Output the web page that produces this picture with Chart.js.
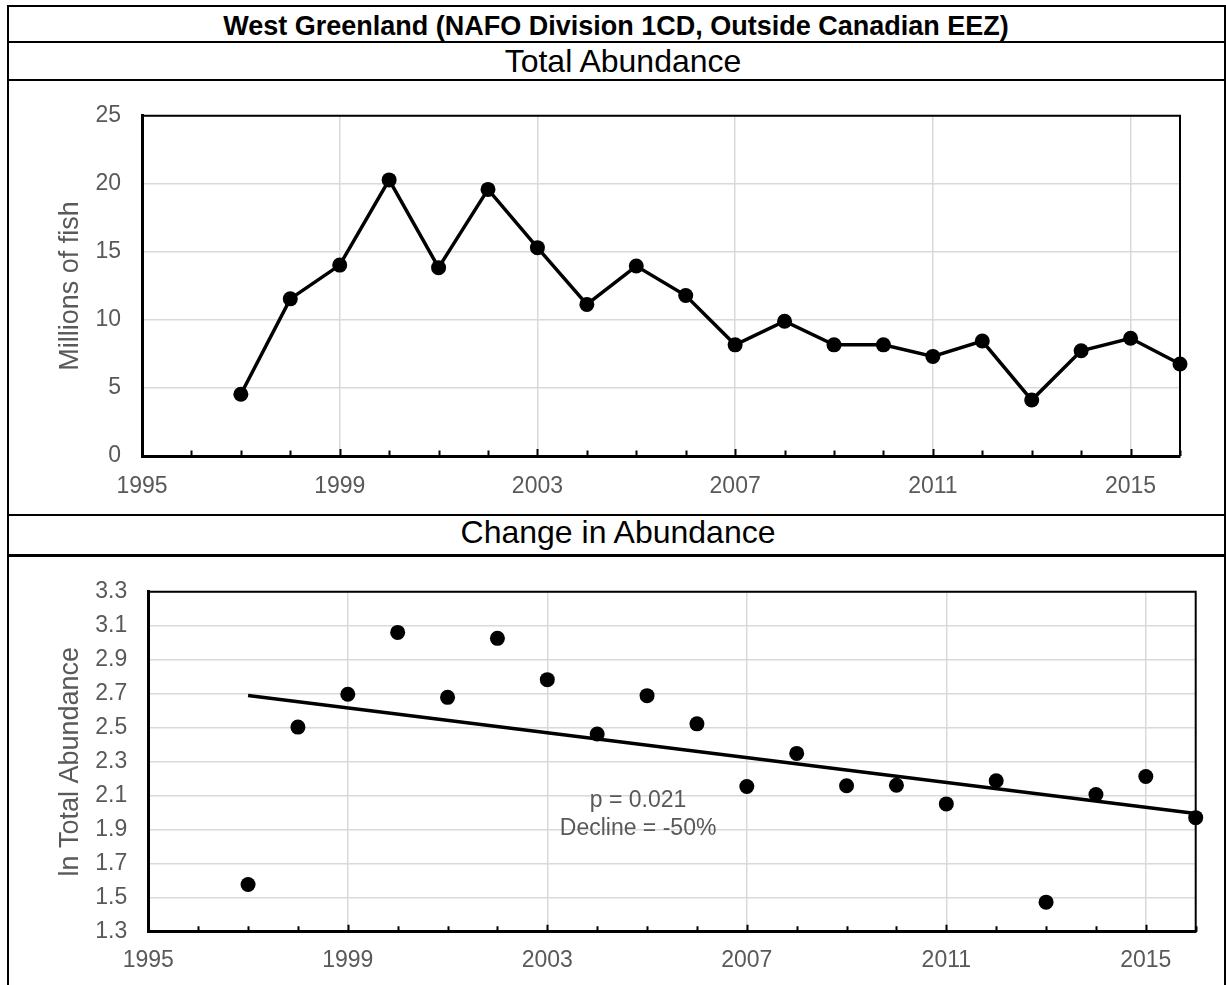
<!DOCTYPE html>
<html>
<head>
<meta charset="utf-8">
<title>West Greenland (NAFO Division 1CD, Outside Canadian EEZ)</title>
<script src="https://cdn.jsdelivr.net/npm/chart.js"></script>
<style>
  html, body { margin: 0; padding: 0; background: #fff; }
  body { width: 1226px; height: 985px; position: relative; overflow: hidden;
         font-family: 'Liberation Sans', Arial, sans-serif; }
  .rule { position: absolute; background: #000; }
  .head { position: absolute; left: 8px; width: 1216px; text-align: center; color: #000; white-space: nowrap; }
  canvas { position: absolute; left: 0; }
</style>
</head>
<body>
<!-- table frame -->
<div class="rule" style="left:7px; top:5px; width:1219px; height:2px;"></div>
<div class="rule" style="left:7px; top:5px; width:2px; height:980px;"></div>
<div class="rule" style="left:1224px; top:5px; width:2px; height:980px;"></div>
<div class="rule" style="left:7px; top:41px; width:1219px; height:2px;"></div>
<div class="rule" style="left:7px; top:79px; width:1219px; height:2px;"></div>
<div class="rule" style="left:7px; top:514px; width:1219px; height:2px;"></div>
<div class="rule" style="left:7px; top:554px; width:1219px; height:3px;"></div>

<div class="head" style="top:13px; font-size:27px; line-height:27px; font-weight:bold;">West Greenland (NAFO Division 1CD, Outside Canadian EEZ)</div>
<div class="head" style="top:45px; left:15px; font-size:32px; line-height:32px;">Total Abundance</div>
<div class="head" style="top:516px; left:10px; font-size:32px; line-height:32px;">Change in Abundance</div>

<canvas id="totalChart" width="1226" height="433" style="top:81px;"></canvas>
<canvas id="changeChart" width="1226" height="428" style="top:557px;"></canvas>

<script>
// Survey years and estimates
const years = [1997, 1998, 1999, 2000, 2001, 2002, 2003, 2004, 2005, 2006,
               2007, 2008, 2009, 2010, 2011, 2012, 2013, 2014, 2015, 2016];
const totalAbundance = [4.54, 11.55, 14.03, 20.29, 13.84, 19.59, 15.31, 11.14, 13.96, 11.79,
                        8.17, 9.90, 8.17, 8.17, 7.32, 8.45, 4.11, 7.73, 8.65, 6.76];
const lnAbundance = [1.578, 2.504, 2.697, 3.061, 2.679, 3.026, 2.783, 2.463, 2.689, 2.523,
                     2.154, 2.349, 2.159, 2.162, 2.052, 2.188, 1.474, 2.107, 2.213, 1.971];

// Fitted log-linear trend (end points)
const trendYears = [1997, 2016];
const trendValues = [2.69, 1.995];

// Axis ticks
const xTickYears = [1995, 1999, 2003, 2007, 2011, 2015];
const totalTicks = [0, 5, 10, 15, 20, 25];
const lnTicks = [1.3, 1.5, 1.7, 1.9, 2.1, 2.3, 2.5, 2.7, 2.9, 3.1, 3.3];

// Regression summary
const statLines = ['p = 0.021', 'Decline = -50%'];

const FONT = "'Liberation Sans', Arial, sans-serif";
const GREY = '#595959';
const GRID = '#d9d9d9';
Chart.defaults.font.family = FONT;

// Closes the plot box on top/right and adds inward year tick marks
const plotFrame = {
  id: 'plotFrame',
  beforeDatasetsDraw(chart) {
    const { ctx, chartArea: a, scales: { x } } = chart;
    ctx.save();
    ctx.strokeStyle = '#000';
    ctx.lineWidth = 2;
    ctx.beginPath();
    ctx.moveTo(a.left, a.top);
    ctx.lineTo(a.right, a.top);
    ctx.lineTo(a.right, a.bottom);
    ctx.stroke();
    ctx.beginPath();
    for (let yr = x.min; yr <= x.max; yr++) {
      const px = Math.round(x.getPixelForValue(yr)) + 0.5;
      const len = xTickYears.includes(yr) ? 7 : 5.5;
      ctx.moveTo(px, a.bottom);
      ctx.lineTo(px, a.bottom - len);
    }
    ctx.stroke();
    ctx.restore();
  }
};

// Writes the regression summary inside the plot
const statText = {
  id: 'statText',
  afterDatasetsDraw(chart, args, opts) {
    if (!opts.lines) return;
    const { ctx, scales: { x, y } } = chart;
    ctx.save();
    ctx.font = '23px ' + FONT;
    ctx.fillStyle = GREY;
    ctx.textAlign = 'center';
    ctx.textBaseline = 'alphabetic';
    const px = x.getPixelForValue(opts.x);
    const py = y.getPixelForValue(opts.y);
    opts.lines.forEach((t, i) => ctx.fillText(t, px, py + i * opts.lineGap));
    ctx.restore();
  }
};

function xScale(axisHeight, pad) {
  return {
    type: 'linear', min: 1995, max: 2016,
    afterBuildTicks: s => { s.ticks = xTickYears.map(v => ({ value: v })); },
    afterFit: s => { s.height = axisHeight; },
    ticks: { font: { size: 23 }, color: GREY, padding: pad, maxRotation: 0, autoSkip: false,
             callback: v => String(v) },
    grid: { color: GRID, lineWidth: 1.5, drawTicks: false },
    border: { color: '#000', width: 3 }
  };
}

function yScale(min, max, ticks, axisWidth, title, fmt) {
  return {
    type: 'linear', min: min, max: max,
    afterBuildTicks: s => { s.ticks = ticks.map(v => ({ value: v })); },
    afterFit: s => { s.width = axisWidth; },
    ticks: { font: { size: 23 }, color: GREY, padding: 21, autoSkip: false, callback: fmt },
    grid: { color: GRID, lineWidth: 1.5, drawTicks: false },
    border: { color: '#000', width: 3 },
    title: { display: true, text: title, color: GREY, font: { size: 27 }, padding: { top: 54, bottom: 0 } }
  };
}

const common = {
  responsive: false,
  animation: false,
  devicePixelRatio: 1
};

new Chart(document.getElementById('totalChart'), {
  type: 'line',
  data: {
    datasets: [{
      data: years.map((yr, i) => ({ x: yr, y: totalAbundance[i] })),
      borderColor: '#000', borderWidth: 3.5, tension: 0,
      pointRadius: 7.5, pointBackgroundColor: '#000', pointBorderWidth: 0,
      clip: false
    }]
  },
  options: Object.assign({}, common, {
    layout: { padding: { left: 0, top: 30, right: 46, bottom: 0 } },
    scales: {
      x: xScale(58, 17),
      y: yScale(0, 25, totalTicks, 142, 'Millions of fish', v => String(v))
    },
    plugins: { legend: { display: false }, tooltip: { enabled: false }, statText: {} }
  }),
  plugins: [plotFrame, statText]
});

new Chart(document.getElementById('changeChart'), {
  type: 'line',
  data: {
    datasets: [{
      data: years.map((yr, i) => ({ x: yr, y: lnAbundance[i] })),
      showLine: false,
      pointRadius: 7.5, pointBackgroundColor: '#000', pointBorderWidth: 0,
      clip: false
    }, {
      data: trendYears.map((yr, i) => ({ x: yr, y: trendValues[i] })),
      borderColor: '#000', borderWidth: 3.5, pointRadius: 0, tension: 0,
      clip: false
    }]
  },
  options: Object.assign({}, common, {
    layout: { padding: { left: 0, top: 29, right: 30.3, bottom: 0 } },
    scales: {
      x: xScale(53.3, 15.5),
      y: yScale(1.3, 3.3, lnTicks, 148.3, 'ln Total Abundance', v => Number(v).toFixed(1))
    },
    plugins: {
      legend: { display: false }, tooltip: { enabled: false },
      statText: { lines: statLines, x: 2004.82, y: 2.033, lineGap: 27.7 }
    }
  }),
  plugins: [plotFrame, statText]
});
</script>
</body>
</html>
